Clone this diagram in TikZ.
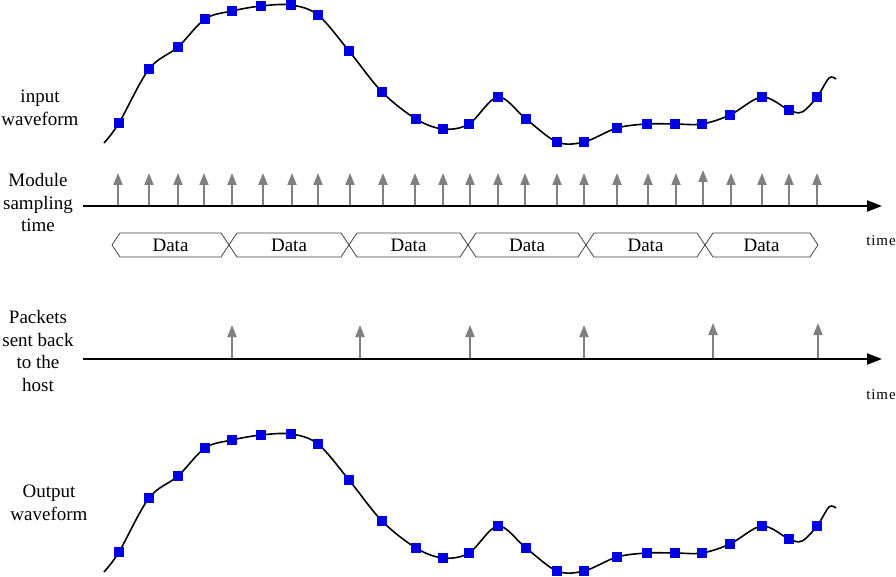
\documentclass[tikz,border=0pt]{standalone}
\usepackage{fontspec}
\setmainfont{Liberation Serif}
\usetikzlibrary{arrows.meta}
\definecolor{sqblue}{RGB}{0,0,225}
\definecolor{tickgray}{RGB}{128,128,128}
\begin{document}
\begin{tikzpicture}[x=1pt,y=-1pt,
  wave/.style={line width=1.6pt, black},
  sample/.style={fill=sqblue, draw=none, rectangle, minimum size=10pt, inner sep=0pt},
  tick/.style={tickgray, line width=2pt, -{Triangle[length=12pt,width=9pt]}},
  axis/.style={black, line width=2.2pt, -{Triangle[length=15pt,width=11pt]}},
  lbl/.style={font=\fontsize{19}{22.5}\selectfont, align=center, inner sep=0pt},
  timelbl/.style={font=\fontsize{15}{17}\selectfont\addfontfeature{LetterSpace=6}, inner sep=0pt},
  databox/.style={draw=black!75, line width=0.8pt}]
\useasboundingbox (0,0) rectangle (896,577);

% ---------- waveforms ----------
\foreach \dy/\nm in {0/in,429/out}{
  \begin{scope}[yshift=-\dy pt]
    \draw[wave] plot[smooth, tension=0.55] coordinates {(104,143) (119,123) (149,69) (178,47) (205,19) (232,11) (261,6) (291,5) (318,15) (349,51) (382,92) (416,119) (443,129) (469,124) (498,97) (526,119) (557,142) (584,142) (617,128) (647,124) (675,124) (702,124) (730,115) (762,97) (789,110) (802,112) (817,97) (829,78) (836,79)};
    \foreach \x/\y [count=\i] in {119/123,149/69,178/47,205/19,232/11,261/6,291/5,318/15,349/51,382/92,416/119,443/129,469/124,498/97,526/119,557/142,584/142,617/128,647/124,675/124,702/124,730/115,762/97,789/110,817/97}
      \node[sample] (\nm\i) at (\x,\y) {};
  \end{scope}
}

% ---------- module sampling axis ----------
\coordinate (mA) at (83,206);
\coordinate (mB) at (882,206);
\foreach \x/\t [count=\i] in {118/173,149/173,178/173,204/173,232/173,263/173,292/173,318/173,350/173,383/173,415/173,443/173,470/173,498/173,525/173,557/173,584/173,617/173,648/173,676/173,703/170,731/173,762/173,789/173,817/173}{
  \coordinate (mb\i) at (\x,206);
  \coordinate (mt\i) at (\x,\t);
  \draw[tick] (mb\i) -- (mt\i);
}
\draw[axis] (mA) -- (mB);

% ---------- data boxes ----------
\foreach \xl/\xr [count=\i] in {112/229,229/349,349/468,468/586,586/705,705/818}{
  \draw[databox] (\xl,245) -- (\xl+8,233) -- (\xr-8,233) -- (\xr,245) -- (\xr-8,257) -- (\xl+8,257) -- cycle;
  \node[lbl] (d\i) at ({(\xl+\xr)/2},245) {Data};
}
\node[timelbl] (t1) at (881,241) {time};

% ---------- packets axis ----------
\coordinate (pA) at (83,359);
\coordinate (pB) at (882,359);
\foreach \x/\t [count=\i] in {232/325,360/325,470/325,584/325,713/323,818/323}{
  \coordinate (pb\i) at (\x,359);
  \coordinate (pt\i) at (\x,\t);
  \draw[tick] (pb\i) -- (pt\i);
}
\draw[axis] (pA) -- (pB);
\node[timelbl] (t2) at (881,395) {time};

% ---------- labels ----------
\node[lbl] (linput) at (40,108) {input\\waveform};
\node[lbl] (lmod) at (38,203) {Module\\sampling\\time};
\node[lbl] (lpack) at (38,351) {Packets\\sent back\\to the\\host};
\node[lbl] (lout) at (49,503) {Output\\waveform};
\end{tikzpicture}
\end{document}
